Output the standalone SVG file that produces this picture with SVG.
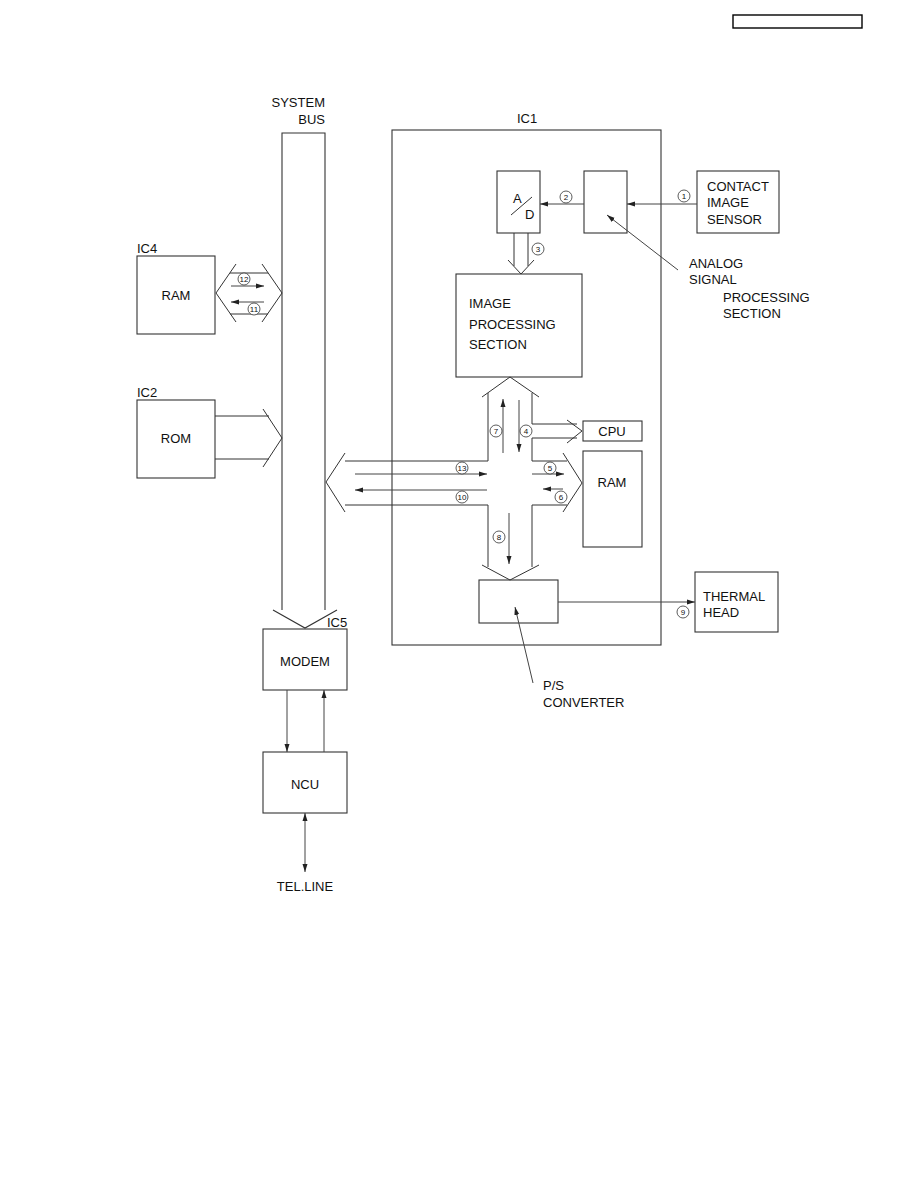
<svg xmlns="http://www.w3.org/2000/svg" width="918" height="1188" viewBox="0 0 918 1188">
<style>
.b{fill:none;stroke:#333;stroke-width:1.1}
.l{fill:none;stroke:#333;stroke-width:1}
.a{fill:none;stroke:#444;stroke-width:1;marker-end:url(#ah)}
.t{font-family:"Liberation Sans",Arial,sans-serif;font-size:13px;fill:#111}
.c{fill:#fff;stroke:#333;stroke-width:0.8}
.n{font-family:"Liberation Sans",Arial,sans-serif;font-size:8px;fill:#111;text-anchor:middle}
</style>
<defs>
<marker id="ah" markerWidth="8" markerHeight="6" refX="8" refY="3" orient="auto" markerUnits="userSpaceOnUse"><path d="M0,0.5 L8,3 L0,5.5 z" fill="#222"/></marker>
<marker id="as" markerWidth="8" markerHeight="6" refX="0" refY="3" orient="auto" markerUnits="userSpaceOnUse"><path d="M8,0.5 L0,3 L8,5.5 z" fill="#222"/></marker>
</defs>
<rect x="0" y="0" width="918" height="1188" fill="#fff"/>
<rect x="733" y="15" width="129" height="13" fill="none" stroke="#000" stroke-width="1.4"/>

<g id="system-bus">
<text class="t" x="325" y="107" text-anchor="end">SYSTEM</text>
<text class="t" x="325" y="124" text-anchor="end">BUS</text>
<path class="b" d="M282,610 V133 H325 V610"/>
<path class="b" d="M273,610 L305,628 L337,610"/>
</g>

<g id="ic4-ram">
<text class="t" x="137" y="253">IC4</text>
<rect class="b" x="137" y="256" width="78" height="78"/>
<text class="t" x="176" y="300" text-anchor="middle">RAM</text>
</g>

<g id="ic2-rom">
<text class="t" x="137" y="397">IC2</text>
<rect class="b" x="137" y="400" width="78" height="78"/>
<text class="t" x="176" y="443" text-anchor="middle">ROM</text>
</g>

<g id="ic1">
<text class="t" x="527" y="123" text-anchor="middle">IC1</text>
<rect class="b" x="392" y="130" width="269" height="515"/>
</g>

<g id="ad">
<rect class="b" x="497" y="171" width="43" height="62"/>
<text class="t" x="513" y="203">A</text>
<text class="t" x="525" y="219">D</text>
<line class="l" x1="511" y1="215" x2="532" y2="197"/>
</g>

<g id="analog">
<rect class="b" x="584" y="171" width="43" height="62"/>
</g>

<g id="contact-image-sensor">
<rect class="b" x="697" y="171" width="82" height="62"/>
<text class="t" x="707" y="191">CONTACT</text>
<text class="t" x="707" y="207">IMAGE</text>
<text class="t" x="707" y="224">SENSOR</text>
</g>

<g id="analog-label">
<text class="t" x="689" y="268">ANALOG</text>
<text class="t" x="689" y="284">SIGNAL</text>
<text class="t" x="723" y="302">PROCESSING</text>
<text class="t" x="723" y="318">SECTION</text>
</g>

<g id="image-processing">
<rect class="b" x="456" y="274" width="126" height="103"/>
<text class="t" x="469" y="308">IMAGE</text>
<text class="t" x="469" y="329">PROCESSING</text>
<text class="t" x="469" y="349">SECTION</text>
</g>

<g id="cpu">
<rect class="b" x="583" y="421" width="59" height="20"/>
<text class="t" x="612" y="436" text-anchor="middle">CPU</text>
</g>

<g id="ram-ic1">
<rect class="b" x="583" y="451" width="59" height="96"/>
<text class="t" x="612" y="487" text-anchor="middle">RAM</text>
</g>

<g id="ps-converter">
<rect class="b" x="479" y="580" width="79" height="43"/>
<text class="t" x="543" y="690">P/S</text>
<text class="t" x="543" y="707">CONVERTER</text>
</g>

<g id="thermal-head">
<rect class="b" x="695" y="572" width="83" height="60"/>
<text class="t" x="703" y="601">THERMAL</text>
<text class="t" x="703" y="617">HEAD</text>
</g>

<g id="modem">
<text class="t" x="327" y="627">IC5</text>
<rect class="b" x="263" y="629" width="84" height="61"/>
<text class="t" x="305" y="666" text-anchor="middle">MODEM</text>
</g>

<g id="ncu">
<rect class="b" x="263" y="752" width="84" height="61"/>
<text class="t" x="305" y="789" text-anchor="middle">NCU</text>
</g>

<g id="tel-line">
<text class="t" x="305" y="891" text-anchor="middle">TEL.LINE</text>
</g>

<g id="connectors">
<!-- RAM IC4 <-> bus -->
<path class="l" d="M236,264 L216,293 L236,322"/>
<path class="l" d="M262,264 L282,293 L262,322"/>
<line class="l" x1="230" y1="273" x2="268" y2="273"/>
<line class="l" x1="230" y1="314" x2="268" y2="314"/>
<line class="a" x1="231" y1="286" x2="264" y2="286"/>
<line class="a" x1="264" y1="302" x2="231" y2="302"/>

<!-- ROM -> bus -->
<line class="l" x1="215" y1="416" x2="269" y2="416"/>
<line class="l" x1="215" y1="459" x2="269" y2="459"/>
<path class="l" d="M263,409 L282,438 L263,467"/>

<!-- CIS -> analog -> A/D -->
<line class="a" x1="697" y1="204" x2="627" y2="204"/>
<line class="a" x1="584" y1="204" x2="540" y2="204"/>
<line class="a" x1="678" y1="270" x2="607" y2="215"/>

<!-- A/D -> image processing -->
<path class="l" d="M514,233 V266 M528,233 V266"/>
<path class="l" d="M508,260 L521,274 L534,260"/>

<!-- cross bus -->
<path class="l" d="M482,397 L510,377 L539,397"/>
<path class="l" d="M488,393 V461 H345"/>
<path class="l" d="M345,505 H488 V567"/>
<path class="l" d="M532,393 V424 H577"/>
<path class="l" d="M577,438 H532 V461 H567"/>
<path class="l" d="M567,505 H532 V567"/>
<path class="l" d="M567,420 L582,431 L567,443"/>
<path class="l" d="M563,453 L582,483 L563,512"/>
<path class="l" d="M345,453 L326,482 L345,512"/>
<path class="l" d="M482,565 L510,580 L539,565"/>

<line class="a" x1="503" y1="453" x2="503" y2="399"/>
<line class="a" x1="519" y1="400" x2="519" y2="452"/>
<line class="a" x1="355" y1="474" x2="487" y2="474"/>
<line class="a" x1="487" y1="490" x2="355" y2="490"/>
<line class="a" x1="532" y1="474" x2="564" y2="474"/>
<line class="a" x1="563" y1="489" x2="543" y2="489"/>
<line class="a" x1="509" y1="513" x2="509" y2="564"/>

<!-- P/S -> thermal head -->
<line class="a" x1="558" y1="602" x2="695" y2="602"/>
<line class="a" x1="533" y1="683" x2="515" y2="607"/>

<!-- modem <-> ncu -->
<line class="a" x1="287" y1="690" x2="287" y2="752"/>
<line class="a" x1="324" y1="752" x2="324" y2="690"/>
<line class="a" x1="305" y1="813" x2="305" y2="872" style="marker-start:url(#as)"/>

<!-- circled numbers -->
<circle class="c" cx="684" cy="196" r="6"/><text class="n" x="684" y="199">1</text>
<circle class="c" cx="566" cy="197" r="6"/><text class="n" x="566" y="200">2</text>
<circle class="c" cx="538" cy="249" r="6"/><text class="n" x="538" y="252">3</text>
<circle class="c" cx="526" cy="431" r="6"/><text class="n" x="526" y="434">4</text>
<circle class="c" cx="550" cy="468" r="6"/><text class="n" x="550" y="471">5</text>
<circle class="c" cx="561" cy="497" r="6"/><text class="n" x="561" y="500">6</text>
<circle class="c" cx="496" cy="431" r="6"/><text class="n" x="496" y="434">7</text>
<circle class="c" cx="499" cy="537" r="6"/><text class="n" x="499" y="540">8</text>
<circle class="c" cx="683" cy="612" r="6"/><text class="n" x="683" y="615">9</text>
<circle class="c" cx="462" cy="497" r="6"/><text class="n" x="462" y="500">10</text>
<circle class="c" cx="254" cy="309" r="6"/><text class="n" x="254" y="312">11</text>
<circle class="c" cx="244" cy="279" r="6"/><text class="n" x="244" y="282">12</text>
<circle class="c" cx="462" cy="468" r="6"/><text class="n" x="462" y="471">13</text>
</g>
</svg>
